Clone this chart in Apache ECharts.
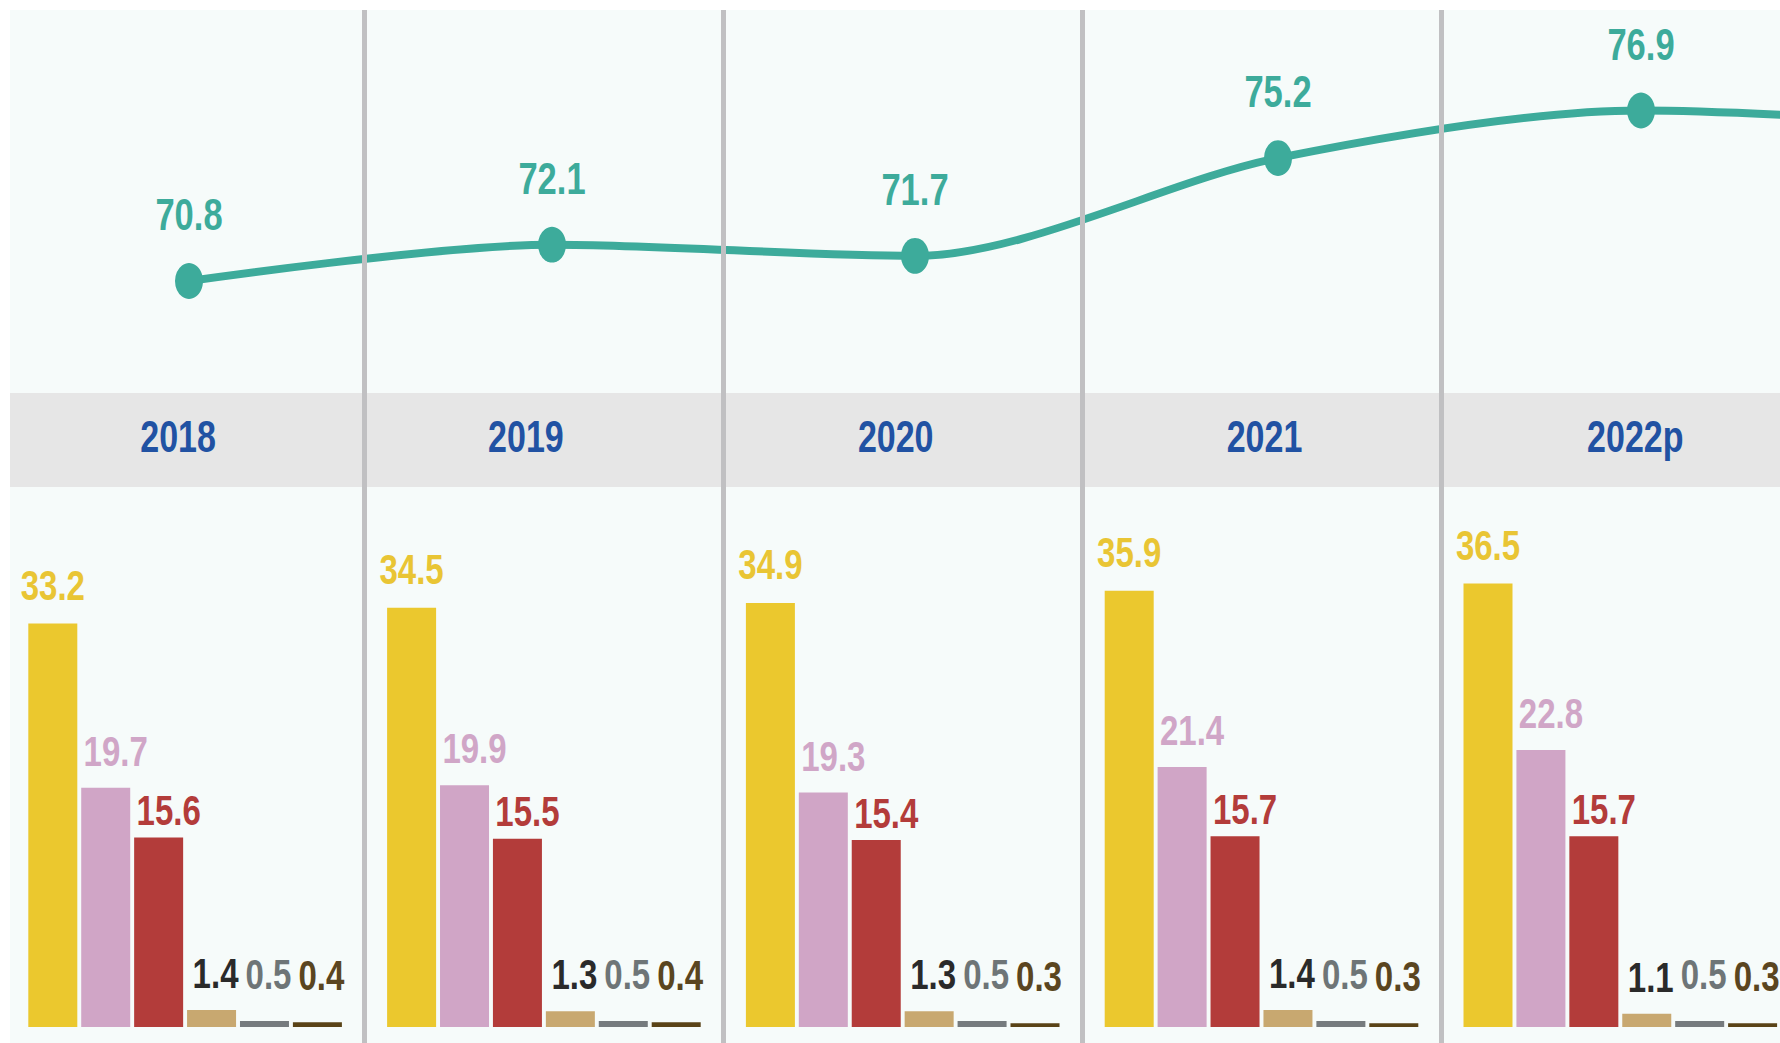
<!DOCTYPE html>
<html>
<head>
<meta charset="utf-8">
<script src="https://cdn.jsdelivr.net/npm/echarts@6/dist/echarts.min.js"></script>
<style>
  html, body { margin: 0; padding: 0; background: #ffffff; }
  body { height: 1043px; overflow: hidden; }
  /* the source graphic is stretched vertically (round dots show as ovals),
     so the chart is laid out short and stretched back with CSS */
  #chart {
    width: 1780px;
    height: 814.84px;
    transform: scaleY(1.28);
    transform-origin: 0 0;
  }
</style>
</head>
<body>
<div id="chart"></div>
<script>
// years (the 6th column is past the right edge, only the line runs into it)
const years = ['2018', '2019', '2020', '2021', '2022p', '']
const lineValues = [70.8, 72.1, 71.7, 75.2, 76.9, 76.3]

const barYellow = [33.2, 34.5, 34.9, 35.9, 36.5]
const barPink = [19.7, 19.9, 19.3, 21.4, 22.8]
const barRed = [15.6, 15.5, 15.4, 15.7, 15.7]
const barTan = [1.4, 1.3, 1.3, 1.4, 1.1]
const barGray = [0.5, 0.5, 0.5, 0.5, 0.5]
const barBrown = [0.4, 0.4, 0.3, 0.3, 0.3]

// small horizontal nudges of the year labels, px
const yearShift = [-7, -18, -7, 3, 15, 0]

const S = 1.28
const u = v => v / S // screen px -> chart px (vertical)
const FONT = "'Liberation Sans', Arial, sans-serif"
const colW = 358.8

const chart = echarts.init(document.getElementById('chart'), null, { renderer: 'svg' })

function barSeries(name, data, color, labelColor, distance, dx) {
  return {
    name: name,
    type: 'bar',
    xAxisIndex: 3,
    yAxisIndex: 3,
    barWidth: 49,
    barGap: '8%',
    data: data,
    itemStyle: { color: color },
    label: {
      show: true,
      position: 'top',
      distance: distance,
      offset: [dx, 0],
      color: labelColor,
      fontFamily: FONT,
      fontSize: 33,
      fontWeight: 'bold'
    }
  }
}

const yearData = years.map((y, i) => {
  const d = yearShift[i]
  return {
    value: y,
    textStyle: { padding: d < 0 ? [0, -2 * d, 0, 0] : [0, 0, 0, 2 * d] }
  }
})

// the point past the right edge only shapes the curve, its label stays hidden
const lineData = lineValues.map((v, i) =>
  i < 5 ? v : { value: v, label: { show: false } }
)

const gridBase = { outerBoundsMode: 'none', containLabel: false }

chart.setOption({
  animation: false,
  grid: [
    // light panel
    Object.assign({ left: 10, top: u(10), right: 0, bottom: 0, show: true, backgroundColor: '#f6fbfa', borderWidth: 0 }, gridBase),
    // grey year band
    Object.assign({ left: 10, top: u(393), right: 0, height: u(94), show: true, backgroundColor: '#e6e6e6', borderWidth: 0 }, gridBase),
    // column frame: dividers + year labels
    Object.assign({ left: 5.7, top: u(10), height: u(1033), width: colW * 6 }, gridBase),
    // line
    Object.assign({ left: 7.5, top: u(23.9), height: u(391.3), width: 363 * 6 }, gridBase),
    // bars
    Object.assign({ left: 5.7, top: u(541), height: u(486), width: colW * 6 }, gridBase)
  ],
  xAxis: [
    { gridIndex: 0, type: 'category', show: false },
    {
      gridIndex: 2,
      type: 'category',
      position: 'top',
      data: yearData,
      z: 5,
      axisLine: { show: false },
      axisTick: { show: false },
      axisLabel: {
        inside: true,
        margin: u(405.5),
        color: '#2152a3',
        fontFamily: FONT,
        fontWeight: 'bold',
        fontSize: 34
      },
      splitLine: {
        show: true,
        showMinLine: false,
        lineStyle: { color: '#c0c0c2', width: 5 }
      }
    },
    { gridIndex: 3, type: 'category', data: years, show: false },
    { gridIndex: 4, type: 'category', data: years, show: false }
  ],
  yAxis: [
    { gridIndex: 0, type: 'value', show: false },
    { gridIndex: 2, type: 'value', show: false },
    { gridIndex: 3, type: 'value', min: 66, max: 80, show: false },
    { gridIndex: 4, type: 'value', min: 0, max: 40, show: false }
  ],
  series: [
    {
      name: 'line',
      type: 'line',
      xAxisIndex: 2,
      yAxisIndex: 2,
      data: lineData,
      smooth: 0.3,
      symbol: 'circle',
      symbolSize: 28,
      lineStyle: { color: '#3dab9b', width: u(8) },
      itemStyle: { color: '#3dab9b' },
      label: {
        show: true,
        position: 'top',
        distance: 20.5,
        color: '#3dab9b',
        fontFamily: FONT,
        fontSize: 34.5,
        fontWeight: 'bold'
      },
      z: 4
    },
    barSeries('s1', barYellow, '#ebc82e', '#e9c534', 13.5, 0),
    barSeries('s2', barPink, '#d0a5c6', '#d0a6c7', 12, 10),
    barSeries('s3', barRed, '#b33c3a', '#b33c3a', 4.5, 10),
    barSeries('s4', barTan, '#c8a870', '#2a2a2a', 12, 4),
    barSeries('s5', barGray, '#767b7e', '#6e7577', 20, 4),
    barSeries('s6', barBrown, '#5a4317', '#5a4520', 20, 4)
  ]
})
</script>
</body>
</html>
